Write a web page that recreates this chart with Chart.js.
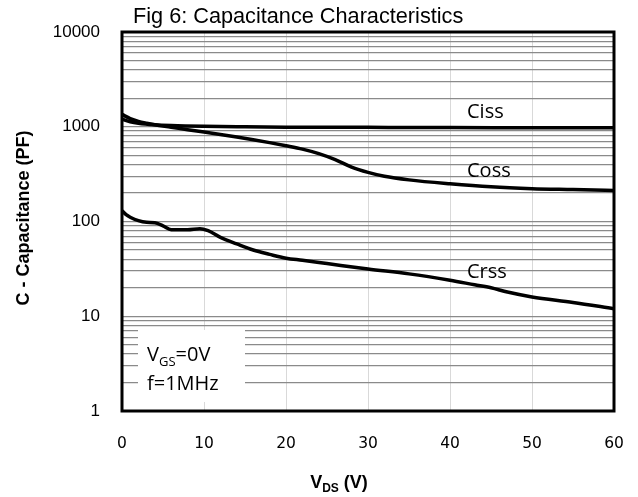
<!DOCTYPE html>
<html>
<head>
<meta charset="utf-8">
<script src="https://cdn.jsdelivr.net/npm/chart.js@4.4.1/dist/chart.umd.min.js"></script>
<style>
    html, body { margin: 0; padding: 0; background: #ffffff; }
    #wrap { width: 638px; height: 497px; }
</style>
</head>
<body>
<div id="wrap"><canvas id="myChart" width="638" height="497"></canvas></div>
<script>
// values
const vdsCiss = [0, 1, 2, 4, 6, 10, 15, 20, 30, 40, 50, 60]
const ciss    = [1200, 1130, 1090, 1050, 1030, 1010, 998, 990, 985, 980, 978, 975]

const vdsCoss = [0, 1, 2, 3, 4, 6, 8, 10, 12, 14, 16, 18, 20, 22, 24, 26, 28, 30, 32, 35, 40, 45, 50, 55, 60]
const coss    = [1350, 1220, 1140, 1090, 1050, 990, 930, 880, 830, 780, 730, 680, 630, 580, 520, 450, 375, 330, 300, 275, 250, 232, 222, 217, 212]

const vdsCrss = [0, 0.5, 1, 2, 3, 4, 5, 6, 8, 9.5, 10.5, 12, 14, 16, 18, 20, 22, 25, 30, 35, 40, 43, 45, 47, 50, 55, 60]
const crss    = [130, 118, 111, 102, 98, 97, 90, 82, 82, 84, 80, 68, 58, 50, 45, 41, 39, 36, 31.5, 28, 24, 21.5, 20, 18, 16, 14, 12]

const seriesNames = ["Ciss", "Coss", "Crss"]
const xTicks = [0, 10, 20, 30, 40, 50, 60]
const yTickLabels = [1, 10, 100, 1000, 10000]
const yGridValues = []
for (let d = 1; d < 10000; d *= 10){
    for (let k = 1; k < 10; k++){
        yGridValues.push(k * d)
    }
}
yGridValues.push(10000)

function toPoints(xs, ys){
    const pts = []
    for (let i in xs){
        pts.push({x: xs[i], y: ys[i]})
    }
    return pts
}

function lineSet(label, xs, ys){
    return {
        label: label,
        data: toPoints(xs, ys),
        showLine: true,
        borderColor: "#000000",
        borderWidth: 3.5,
        pointRadius: 0,
        fill: false,
        cubicInterpolationMode: "monotone"
    }
}

const textPlugin = {
    id: "textPlugin",
    beforeDatasetsDraw(chart){
        const ctx = chart.ctx
        // white box behind the test conditions
        ctx.save()
        ctx.fillStyle = "#ffffff"
        ctx.fillRect(138, 330, 107, 72)
        ctx.restore()
    },
    afterDatasetsDraw(chart){
        const ctx = chart.ctx
        const a = chart.chartArea
        ctx.save()

        ctx.strokeStyle = "#000000"
        ctx.lineWidth = 3
        ctx.strokeRect(a.left, a.top, a.right - a.left, a.bottom - a.top)

        ctx.fillStyle = "#000000"
        ctx.textBaseline = "alphabetic"
        ctx.textAlign = "left"
        ctx.font = "21.7px 'Liberation Sans', Arial, sans-serif"
        ctx.fillText("Fig 6: Capacitance Characteristics", 133, 23)

        // curve labels
        ctx.font = "20px 'Open Sans', sans-serif"
        ctx.fillText(seriesNames[0], 467, 118)
        ctx.fillText(seriesNames[1], 467, 177)
        ctx.fillText(seriesNames[2], 467, 278)

        // test conditions
        ctx.font = "20px 'Open Sans', sans-serif"
        ctx.fillText("V", 147, 361)
        let w = ctx.measureText("V").width
        ctx.font = "13px 'Open Sans', sans-serif"
        ctx.fillText("GS", 147 + w, 366)
        let w2 = ctx.measureText("GS").width
        ctx.font = "20px 'Open Sans', sans-serif"
        ctx.fillText("=0V", 147 + w + w2, 361)
        ctx.fillText("f=1MHz", 147, 390)

        // axis titles
        ctx.font = "bold 18px 'Liberation Sans', Arial, sans-serif"
        let wV = ctx.measureText("V").width
        let wRest = ctx.measureText(" (V)").width
        ctx.font = "bold 12px 'Liberation Sans', Arial, sans-serif"
        let wDS = ctx.measureText("DS").width
        let x0 = 339 - (wV + wDS + wRest) / 2
        ctx.font = "bold 18px 'Liberation Sans', Arial, sans-serif"
        ctx.fillText("V", x0, 488)
        ctx.font = "bold 12px 'Liberation Sans', Arial, sans-serif"
        ctx.fillText("DS", x0 + wV, 492)
        ctx.font = "bold 18px 'Liberation Sans', Arial, sans-serif"
        ctx.fillText(" (V)", x0 + wV + wDS, 488)

        ctx.translate(24, 218)
        ctx.rotate(-Math.PI / 2)
        ctx.textAlign = "center"
        ctx.textBaseline = "middle"
        ctx.fillText("C - Capacitance (PF)", 0, 0)
        ctx.restore()
    }
}

function setup(){
    new Chart("myChart", {
        type: "scatter",
        data: {
            datasets: [
                lineSet(seriesNames[0], vdsCiss, ciss),
                lineSet(seriesNames[1], vdsCoss, coss),
                lineSet(seriesNames[2], vdsCrss, crss)
            ]
        },
        options: {
            responsive: false,
            animation: false,
            layout: { padding: { left: 0, right: 24, top: 32, bottom: 0 } },
            plugins: {
                legend: { display: false },
                tooltip: { enabled: false },
                title: { display: false }
            },
            scales: {
                x: {
                    type: "linear",
                    min: 0,
                    max: 60,
                    afterBuildTicks: (scale) => { scale.ticks = xTicks.map(v => ({value: v})) },
                    afterFit: (scale) => {
                        scale.height = 86
                        scale.paddingLeft = 0
                        scale.paddingRight = 0
                    },
                    grid: { color: "#d9d9d9", lineWidth: 1, drawTicks: false },
                    border: { display: false },
                    ticks: {
                        color: "#000000",
                        padding: 24,
                        maxRotation: 0,
                        font: { family: "'DejaVu Sans', sans-serif", size: 15.5 }
                    }
                },
                y: {
                    type: "logarithmic",
                    min: 1,
                    max: 10000,
                    afterBuildTicks: (scale) => { scale.ticks = yGridValues.map(v => ({value: v})) },
                    afterFit: (scale) => {
                        scale.width = 122
                        scale.paddingTop = 0
                        scale.paddingBottom = 0
                    },
                    grid: { color: "#8a8a8a", lineWidth: 1.3, drawTicks: false },
                    border: { display: false },
                    ticks: {
                        color: "#000000",
                        padding: 22,
                        autoSkip: false,
                        font: { family: "'Liberation Sans', Arial, sans-serif", size: 17 },
                        callback: (v) => yTickLabels.includes(v) ? String(v) : ""
                    }
                }
            }
        },
        plugins: [textPlugin]
    })
}

setup()
</script>
</body>
</html>
